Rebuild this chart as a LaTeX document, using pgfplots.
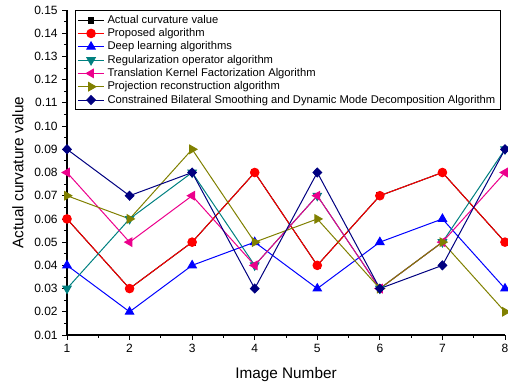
\documentclass[border=0pt]{standalone}
\usepackage{fontspec}
\setmainfont{Liberation Sans}
\usepackage{pgfplots}
\pgfplotsset{compat=1.18}
\definecolor{cteal}{RGB}{0,128,128}
\definecolor{colive}{RGB}{128,128,0}
\definecolor{cnavy}{RGB}{0,0,128}
\begin{document}
\begin{tikzpicture}
\begin{axis}[
  scale only axis,
  width=328.5pt, height=243.75pt,
  xmin=1, xmax=8, ymin=0.01, ymax=0.15,
  axis lines=left,
  axis line style={-, line width=0.8pt},
  xtick={1,...,8},
  minor x tick num=1,
  ytick={0.01,0.02,...,0.151},
  minor y tick num=1,
  tick align=outside,
  tick style={black, line width=0.6pt},
  major tick length=3.5pt, minor tick length=2pt,
  /pgf/number format/assume math mode=true,
  yticklabel style={/pgf/number format/fixed,/pgf/number format/fixed zerofill,/pgf/number format/precision=2, font=\fontsize{9}{10}\selectfont},
  xticklabel style={font=\fontsize{9}{10}\selectfont},
  scaled y ticks=false,
  xlabel={Image Number}, ylabel={Actual curvature value},
  every axis x label/.style={at={(rel axis cs:0.5,0)}, yshift=-30pt, anchor=center, font=\fontsize{11.5}{12}\selectfont},
  every axis y label/.style={at={(rel axis cs:0,0.5)}, xshift=-36.75pt, rotate=90, anchor=center, font=\fontsize{11.5}{12}\selectfont},
  clip=false,
  legend style={at={(0.018,1.0)}, anchor=north west, font=\fontsize{8.4}{9.6}\selectfont, draw=black, line width=0.6pt, inner sep=1.5pt, row sep=-1.6pt, cells={anchor=west}},
  legend cell align=left,
  legend image code/.code={\draw[mark repeat=2,mark phase=2] plot coordinates {(0cm,0cm) (0.35cm,0cm) (0.7cm,0cm)};},
  every axis plot/.append style={line width=0.75pt, mark size=3.2pt},
]
\addplot[black, mark=square*, mark size=2.2pt] coordinates {(1,0.06)(2,0.03)(3,0.05)(4,0.08)(5,0.04)(6,0.07)(7,0.08)(8,0.05)};
\addlegendentry{Actual curvature value}
\addplot[red, mark=*] coordinates {(1,0.06)(2,0.03)(3,0.05)(4,0.08)(5,0.04)(6,0.07)(7,0.08)(8,0.05)};
\addlegendentry{Proposed algorithm}
\addplot[blue, mark=triangle*, mark size=3.6pt] coordinates {(1,0.04)(2,0.02)(3,0.04)(4,0.05)(5,0.03)(6,0.05)(7,0.06)(8,0.03)};
\addlegendentry{Deep learning algorithms}
\addplot[cteal, mark=triangle*, mark size=3.6pt, every mark/.append style={rotate=180}] coordinates {(1,0.03)(2,0.06)(3,0.08)(4,0.04)(5,0.07)(6,0.03)(7,0.05)(8,0.09)};
\addlegendentry{Regularization operator algorithm}
\addplot[magenta, mark=triangle*, mark size=3.6pt, every mark/.append style={rotate=90}] coordinates {(1,0.08)(2,0.05)(3,0.07)(4,0.04)(5,0.07)(6,0.03)(7,0.05)(8,0.08)};
\addlegendentry{Translation Kernel Factorization Algorithm}
\addplot[colive, mark=triangle*, mark size=3.6pt, every mark/.append style={rotate=-90}] coordinates {(1,0.07)(2,0.06)(3,0.09)(4,0.05)(5,0.06)(6,0.03)(7,0.05)(8,0.02)};
\addlegendentry{Projection reconstruction algorithm}
\addplot[cnavy, mark=diamond*, mark size=3.3pt, every mark/.append style={xscale=1.3}] coordinates {(1,0.09)(2,0.07)(3,0.08)(4,0.03)(5,0.08)(6,0.03)(7,0.04)(8,0.09)};
\addlegendentry{Constrained Bilateral Smoothing and Dynamic Mode Decomposition Algorithm}
\end{axis}
\path (current axis.south west) ++(-50.25pt,-38.25pt) coordinate (bbA);
\path (current axis.north east) ++(2.25pt,7.5pt) coordinate (bbB);
\pgfresetboundingbox
\path (bbA) rectangle (bbB);
\end{tikzpicture}
\end{document}
